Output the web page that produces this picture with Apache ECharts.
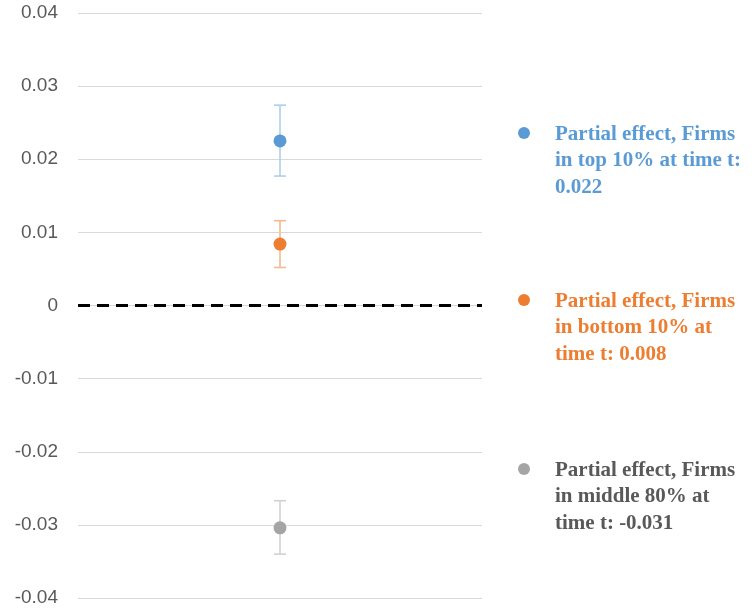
<!DOCTYPE html>
<html><head><meta charset="utf-8">
<script src="https://cdn.jsdelivr.net/npm/echarts@6/dist/echarts.min.js"></script>
<style>html,body{margin:0;padding:0;background:#fff}#c{width:756px;height:611px}</style>
</head><body><div id="c"></div>
<script>
var categories = ['t'];
var seriesNames = ['Partial effect, Firms\nin top 10% at time t:\n0.022', 'Partial effect, Firms\nin bottom 10% at\ntime t: 0.008', 'Partial effect, Firms\nin middle 80% at\ntime t: -0.031'];
var pointValues = [0.0225, 0.0084, -0.0304];
var upperValues = [0.0274, 0.0116, -0.0267];
var lowerValues = [0.0177, 0.0052, -0.0340];
var yTicks = [-0.04, -0.03, -0.02, -0.01, 0, 0.01, 0.02, 0.03, 0.04];

var dotColors = ['#5B9BD5', '#ED7D31', '#A5A5A5'];
var barColors = ['#A9CBEA', '#F5B58A', '#CFCFCF'];
var textColors = ['#5B9BD5', '#ED7D31', '#595959'];

var chart = echarts.init(document.getElementById('c'));
var series = [];
var graphics = [];
var legendTop = [133, 300, 469];
seriesNames.forEach(function (name, i) {
  series.push({
    type: 'custom', name: name + ' err',
    data: [[0, lowerValues[i], upperValues[i]]],
    renderItem: function (params, api) {
      var lo = api.coord([api.value(0), api.value(1)]);
      var hi = api.coord([api.value(0), api.value(2)]);
      var w = 6;
      var st = { stroke: barColors[i], lineWidth: 1.5 };
      return { type: 'group', children: [
        { type: 'line', shape: { x1: lo[0], y1: lo[1], x2: hi[0], y2: hi[1] }, style: st },
        { type: 'line', shape: { x1: lo[0] - w, y1: lo[1], x2: lo[0] + w, y2: lo[1] }, style: st },
        { type: 'line', shape: { x1: hi[0] - w, y1: hi[1], x2: hi[0] + w, y2: hi[1] }, style: st }
      ]};
    },
    z: 2
  });
  series.push({
    type: 'scatter', name: name,
    data: [[0, pointValues[i]]],
    symbolSize: 13,
    itemStyle: { color: dotColors[i], opacity: 1 },
    z: 3
  });
  graphics.push({ type: 'circle', left: 518, top: legendTop[i] - 6, shape: { r: 6 }, style: { fill: dotColors[i] } });
  graphics.push({ type: 'text', left: 555, top: legendTop[i] - 12, style: {
    text: name, fill: textColors[i], font: 'bold 21px "Liberation Serif", serif', lineHeight: 26.5
  }});
});
series.push({
  type: 'line', data: [], silent: true,
  markLine: {
    symbol: 'none', silent: true, label: { show: false },
    lineStyle: { color: '#000', type: [12, 7], width: 3 },
    data: [{ yAxis: 0 }]
  }, z: 4
});

chart.setOption({
  animation: false,
  grid: { left: 78, right: 274, top: 13, bottom: 13 },
  xAxis: { type: 'category', data: categories, boundaryGap: true,
    axisLine: { show: false }, axisTick: { show: false }, axisLabel: { show: false }, splitLine: { show: false } },
  yAxis: { type: 'value', min: yTicks[0], max: yTicks[yTicks.length - 1], interval: 0.01,
    axisLine: { show: false }, axisTick: { show: false },
    splitLine: { lineStyle: { color: '#D9D9D9', width: 1 } },
    axisLabel: { margin: 20, color: '#595959', fontSize: 19, fontFamily: '"Liberation Sans", Arial, sans-serif',
      formatter: function (v) { return String(Math.round(v * 100) / 100); } } },
  series: series,
  graphic: graphics
});
</script></body></html>
